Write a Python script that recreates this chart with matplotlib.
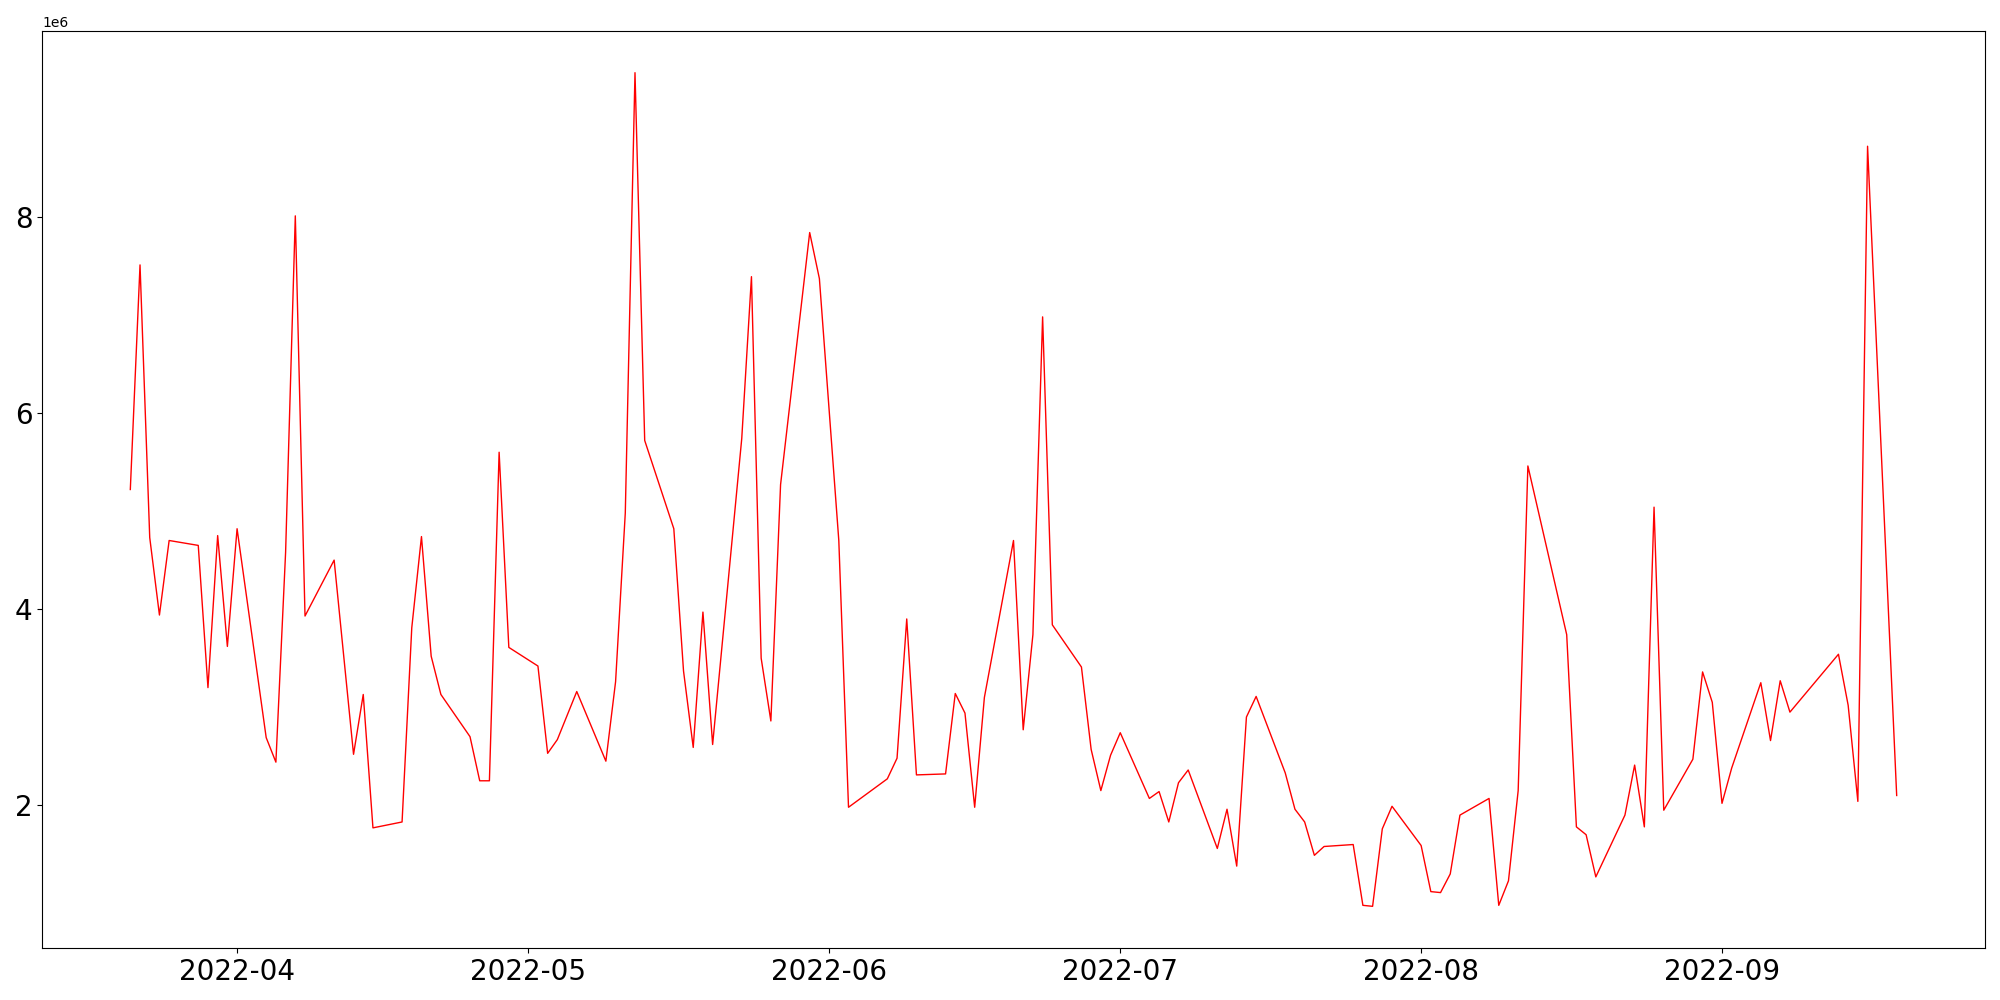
#Daily series, Mar - Sep 2022

import numpy as np
import pandas as pd
import matplotlib
matplotlib.use('Agg')
import matplotlib.pyplot as plt

dates = ['2022-03-21', '2022-03-22', '2022-03-23', '2022-03-24', '2022-03-25',
         '2022-03-28', '2022-03-29', '2022-03-30', '2022-03-31', '2022-04-01',
         '2022-04-04', '2022-04-05', '2022-04-06', '2022-04-07', '2022-04-08',
         '2022-04-11', '2022-04-13', '2022-04-14', '2022-04-15',
         '2022-04-18', '2022-04-19', '2022-04-20', '2022-04-21', '2022-04-22',
         '2022-04-25', '2022-04-26', '2022-04-27', '2022-04-28', '2022-04-29',
         '2022-05-02', '2022-05-03', '2022-05-04', '2022-05-06',
         '2022-05-09', '2022-05-10', '2022-05-11', '2022-05-12', '2022-05-13',
         '2022-05-16', '2022-05-17', '2022-05-18', '2022-05-19', '2022-05-20',
         '2022-05-23', '2022-05-24', '2022-05-25', '2022-05-26', '2022-05-27',
         '2022-05-30', '2022-05-31', '2022-06-02', '2022-06-03',
         '2022-06-07', '2022-06-08', '2022-06-09', '2022-06-10',
         '2022-06-13', '2022-06-14', '2022-06-15', '2022-06-16', '2022-06-17',
         '2022-06-20', '2022-06-21', '2022-06-22', '2022-06-23', '2022-06-24',
         '2022-06-27', '2022-06-28', '2022-06-29', '2022-06-30', '2022-07-01',
         '2022-07-04', '2022-07-05', '2022-07-06', '2022-07-07', '2022-07-08',
         '2022-07-11', '2022-07-12', '2022-07-13', '2022-07-14', '2022-07-15',
         '2022-07-18', '2022-07-19', '2022-07-20', '2022-07-21', '2022-07-22',
         '2022-07-25', '2022-07-26', '2022-07-27', '2022-07-28', '2022-07-29',
         '2022-08-01', '2022-08-02', '2022-08-03', '2022-08-04', '2022-08-05',
         '2022-08-08', '2022-08-09', '2022-08-10', '2022-08-11', '2022-08-12',
         '2022-08-16', '2022-08-17', '2022-08-18', '2022-08-19',
         '2022-08-22', '2022-08-23', '2022-08-24', '2022-08-25', '2022-08-26',
         '2022-08-29', '2022-08-30', '2022-08-31', '2022-09-01', '2022-09-02',
         '2022-09-05', '2022-09-06', '2022-09-07', '2022-09-08',
         '2022-09-13', '2022-09-14', '2022-09-15', '2022-09-16',
         '2022-09-19']

# values in millions
values = [5.22, 7.51, 4.73, 3.94, 4.70,
          4.65, 3.20, 4.75, 3.62, 4.82,
          2.69, 2.44, 4.58, 8.01, 3.93,
          4.50, 2.52, 3.13, 1.77,
          1.83, 3.81, 4.74, 3.52, 3.13,
          2.70, 2.25, 2.25, 5.60, 3.61,
          3.42, 2.53, 2.67, 3.16,
          2.45, 3.26, 4.98, 9.47, 5.72,
          4.82, 3.37, 2.59, 3.97, 2.62,
          5.74, 7.39, 3.50, 2.86, 5.27,
          7.84, 7.37, 4.70, 1.98,
          2.27, 2.48, 3.90, 2.31,
          2.32, 3.14, 2.94, 1.98, 3.10,
          4.70, 2.77, 3.74, 6.98, 3.84,
          3.41, 2.57, 2.15, 2.51, 2.74,
          2.07, 2.14, 1.83, 2.23, 2.36,
          1.56, 1.96, 1.38, 2.90, 3.11,
          2.33, 1.96, 1.83, 1.49, 1.58,
          1.60, 0.98, 0.97, 1.76, 1.99,
          1.59, 1.12, 1.11, 1.30, 1.90,
          2.07, 0.98, 1.23, 2.15, 5.46,
          3.74, 1.78, 1.70, 1.27,
          1.90, 2.41, 1.78, 5.04, 1.95,
          2.47, 3.36, 3.05, 2.02, 2.38,
          3.25, 2.66, 3.27, 2.95,
          3.54, 3.02, 2.04, 8.72,
          2.10]

x = pd.to_datetime(dates)
y = np.array(values) * 1e6

fig, ax = plt.subplots(figsize=(20, 10), dpi=100)
ax.plot(x, y, color='red', linewidth=1)
ax.tick_params(axis='both', labelsize=20)
fig.subplots_adjust(left=0.021, right=0.9925, top=0.969, bottom=0.052)
fig.savefig('out.png')
plt.close()
